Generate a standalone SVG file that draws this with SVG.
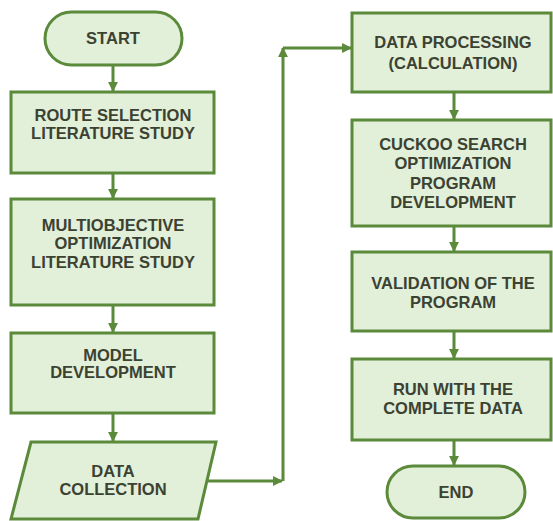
<svg xmlns="http://www.w3.org/2000/svg" width="553" height="521" viewBox="0 0 553 521">
<defs>
<marker id="ah" viewBox="0 0 10 10" refX="9" refY="5" markerWidth="3.3" markerHeight="3.3" orient="auto" markerUnits="strokeWidth">
<path d="M0,0 L10,5 L0,10 z" fill="#5a8a3a"/>
</marker>
<style>
.n{fill:#e2efd9;stroke:#5a8a3a;stroke-width:3}
.t{font-family:"Liberation Sans",Arial,sans-serif;font-weight:bold;font-size:16.5px;fill:#3b4232;text-anchor:middle}
.c{fill:none;stroke:#5a8a3a;stroke-width:3;marker-end:url(#ah)}
</style>
</defs>
<rect width="553" height="521" fill="#ffffff"/>
<g id="connectors">
<path class="c" d="M113,65 V91"/>
<path class="c" d="M113,173 V198"/>
<path class="c" d="M113,305 V332"/>
<path class="c" d="M113,413 V441"/>
<path class="c" d="M208,481 H282"/>
<path class="c" d="M283,481 V48"/>
<path class="c" d="M283,48 H351"/>
<path class="c" d="M454,92 V119"/>
<path class="c" d="M454,226 V251"/>
<path class="c" d="M454,331 V358"/>
<path class="c" d="M454,440 V465"/>
</g>
<g id="start">
<rect class="n" x="45" y="12" width="137" height="53" rx="26.5"/>
<text class="t" x="113" y="44">START</text>
</g>
<g id="route">
<rect class="n" x="11" y="92" width="203" height="81"/>
<text class="t" x="113" y="121">ROUTE SELECTION</text>
<text class="t" x="113" y="139">LITERATURE STUDY</text>
</g>
<g id="multi">
<rect class="n" x="11" y="199" width="203" height="106"/>
<text class="t" x="113" y="231">MULTIOBJECTIVE</text>
<text class="t" x="113" y="249">OPTIMIZATION</text>
<text class="t" x="113" y="268">LITERATURE STUDY</text>
</g>
<g id="model">
<rect class="n" x="11" y="333" width="203" height="80"/>
<text class="t" x="113" y="361">MODEL</text>
<text class="t" x="113" y="378">DEVELOPMENT</text>
</g>
<g id="data">
<polygon class="n" points="31,442 216,442 198,519 11,519"/>
<text class="t" x="113" y="477">DATA</text>
<text class="t" x="113" y="495">COLLECTION</text>
</g>
<g id="processing">
<rect class="n" x="352" y="13" width="199" height="79"/>
<text class="t" x="453" y="48">DATA PROCESSING</text>
<text class="t" x="453" y="69">(CALCULATION)</text>
</g>
<g id="cuckoo">
<rect class="n" x="352" y="120" width="199" height="106"/>
<text class="t" x="453" y="150">CUCKOO SEARCH</text>
<text class="t" x="453" y="169">OPTIMIZATION</text>
<text class="t" x="453" y="189">PROGRAM</text>
<text class="t" x="453" y="208">DEVELOPMENT</text>
</g>
<g id="validation">
<rect class="n" x="352" y="252" width="199" height="79"/>
<text class="t" x="453" y="289">VALIDATION OF THE</text>
<text class="t" x="453" y="308">PROGRAM</text>
</g>
<g id="run">
<rect class="n" x="352" y="359" width="199" height="81"/>
<text class="t" x="453" y="395">RUN WITH THE</text>
<text class="t" x="453" y="414">COMPLETE DATA</text>
</g>
<g id="end">
<rect class="n" x="387" y="466" width="138" height="52" rx="26"/>
<text class="t" x="456" y="498">END</text>
</g>
</svg>
